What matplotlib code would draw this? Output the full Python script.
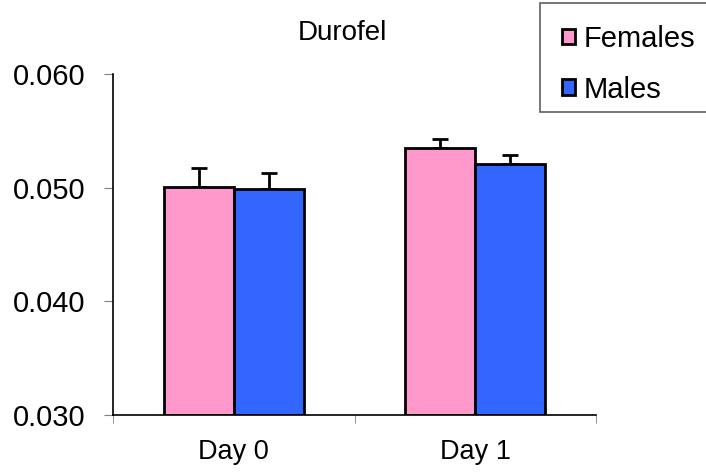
import matplotlib
matplotlib.use("Agg")
import matplotlib.pyplot as plt
from matplotlib.patches import Rectangle
import numpy as np

categories = ["Day 0", "Day 1"]
series = ["Females", "Males"]
females = [0.0501, 0.0535]
males = [0.0499, 0.0521]
females_err = [0.0016, 0.0008]
males_err = [0.0014, 0.0008]
yticks = [0.030, 0.040, 0.050, 0.060]
ytick_labels = ["0.030", "0.040", "0.050", "0.060"]
colors = ["#FF99CC", "#3366FF"]

plt.rcParams['font.family'] = ['Liberation Sans', 'DejaVu Sans']

W, H = 706, 475
fig = plt.figure(figsize=(W/100, H/100), dpi=100)
ax = fig.add_axes([113/W, 1-415/H, (596-113)/W, (415-74)/H])

x = np.arange(len(categories))
w = 0.289
for i, (vals, errs, name) in enumerate([(females, females_err, series[0]), (males, males_err, series[1])]):
    pos = x - w/2 + i*w
    ax.bar(pos, np.array(vals) - 0.030, bottom=0.030, width=w, color=colors[i],
           edgecolor='black', linewidth=2, label=name, zorder=2)
    ax.errorbar(pos, vals, yerr=[np.zeros(len(errs)), errs], fmt='none',
                ecolor='black', elinewidth=2, capsize=6, capthick=2, zorder=1)

ax.set_xlim(-0.5, 1.5)
ax.set_ylim(0.030, 0.060)
ax.set_yticks(yticks)
ax.set_yticklabels(ytick_labels, fontsize=21)
ax.set_xticks(x)
ax.set_xticklabels(categories, fontsize=19.5)
ax.set_xticks([-0.5, 0.5, 1.5], minor=True)
ax.tick_params(axis='x', which='major', length=0, pad=17)
ax.tick_params(axis='x', which='minor', length=6, color='#808080', direction='out')
ax.tick_params(axis='y', which='major', length=6.5, color='#808080', direction='out', pad=13.5)
for s in ['top', 'right']:
    ax.spines[s].set_visible(False)
for s in ['left', 'bottom']:
    ax.spines[s].set_linewidth(1.2)

fig.text(342/W, 1-33/H, "Durofel", fontsize=20, ha='center', va='center')

# legend frame (extends past right edge like the original)
fig.patches.append(Rectangle((540/W, 1-112/H), 180/W, 109/H, transform=fig.transFigure,
                             facecolor='white', edgecolor='#606060', linewidth=1.2, zorder=5))
leg = fig.legend(loc='upper left', bbox_to_anchor=(562/W, 1-25/H), fontsize=21,
                 frameon=False, handlelength=0.45,
                 handleheight=0.45, handletextpad=0.3, labelspacing=0.775,
                 borderpad=0, borderaxespad=0)
leg.set_zorder(6)
for h in leg.legend_handles:
    h.set_linewidth(2)

fig.savefig("out.png", dpi=100)
